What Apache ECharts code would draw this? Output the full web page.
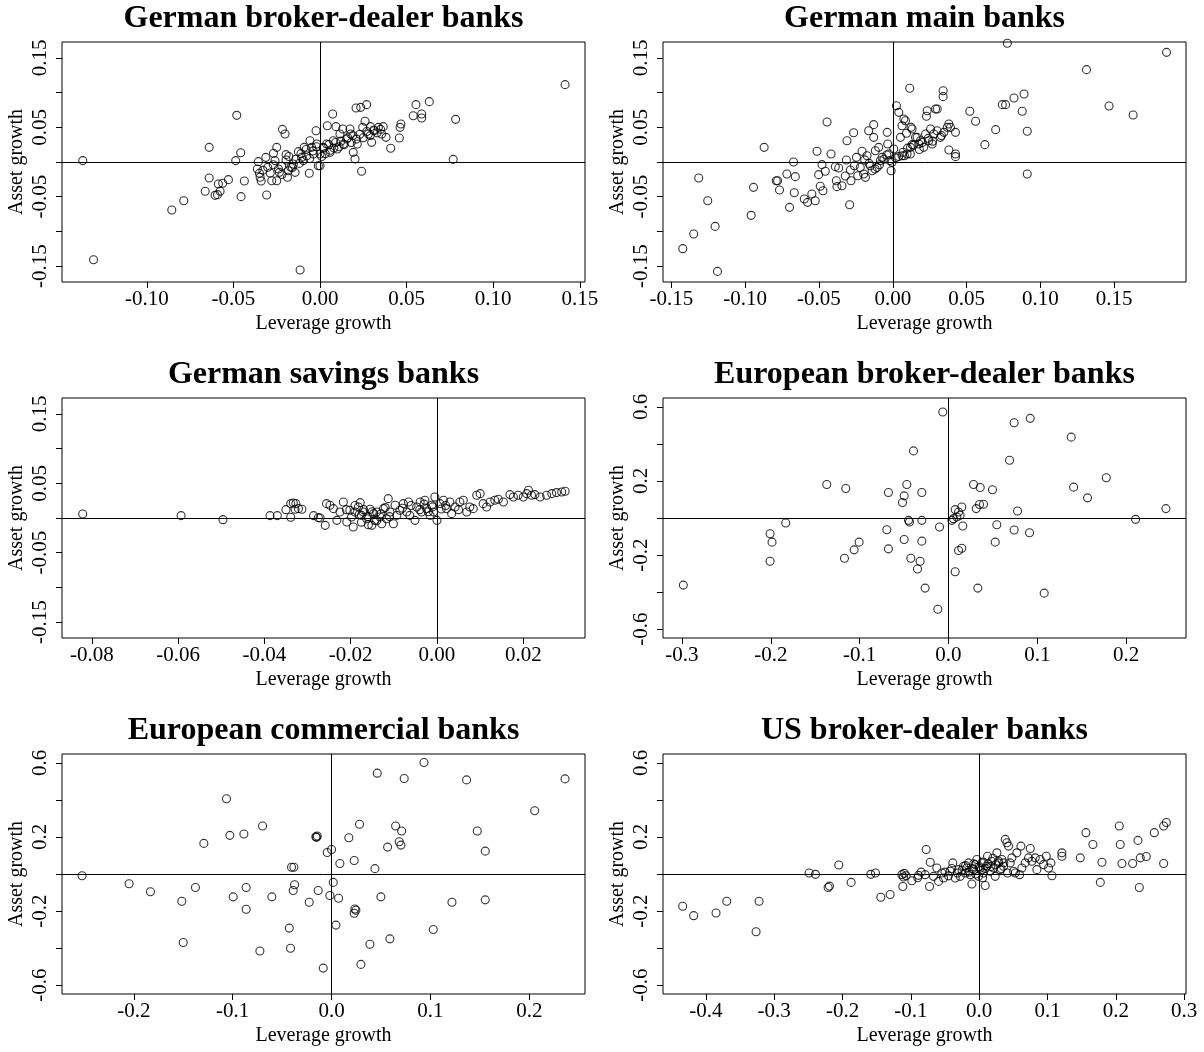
<!DOCTYPE html>
<html><head><meta charset="utf-8">
<script src="https://cdn.jsdelivr.net/npm/echarts@6/dist/echarts.min.js"></script>
<style>html,body{margin:0;padding:0;background:#fff}#c{width:1204px;height:1052px}</style>
</head><body><div id="c"></div>
<script>
// ---------- titles ----------
const panelTitles = ["German broker-dealer banks","German main banks","German savings banks",
  "European broker-dealer banks","European commercial banks","US broker-dealer banks"];
const xAxisTitle = "Leverage growth";
const yAxisTitle = "Asset growth";

// ---------- tick values / labels ----------
const xTicksGBD = [-0.10,-0.05,0.00,0.05,0.10,0.15];
const xTicksGMB = [-0.15,-0.10,-0.05,0.00,0.05,0.10,0.15];
const xTicksGSB = [-0.08,-0.06,-0.04,-0.02,0.00,0.02];
const xTicksEBD = [-0.3,-0.2,-0.1,0.0,0.1,0.2];
const xTicksECB = [-0.2,-0.1,0.0,0.1,0.2];
const xTicksUSB = [-0.4,-0.3,-0.2,-0.1,0.0,0.1,0.2,0.3];
const yTicksGerman = [-0.15,-0.10,-0.05,0.00,0.05,0.10,0.15];
const yLabelsGerman = [-0.15,-0.05,0.05,0.15];
const yTicksOther = [-0.6,-0.4,-0.2,0.0,0.2,0.4,0.6];
const yLabelsOther = [-0.6,-0.2,0.2,0.6];

// ---------- data: [leverage growth, asset growth] ----------
const germanBrokerDealer = [
[-0.137,0.002],[-0.1308,-0.1407],[-0.0856,-0.0691],[-0.0787,-0.0557],[-0.0663,-0.0422],[-0.064,0.0211],[-0.064,-0.023],
[-0.0606,-0.048],[-0.0592,-0.047],[-0.0587,-0.0317],[-0.0577,-0.042],[-0.0562,-0.0307],[-0.0529,-0.0254],[-0.0481,0.0672],
[-0.0487,0.002],[-0.0458,0.0134],[-0.0456,-0.0499],[-0.0437,-0.0274],[-0.0356,0.0005],[-0.0362,-0.010],[-0.035,-0.0163],
[-0.0346,-0.022],[-0.034,-0.0274],[-0.0313,0.0067],[-0.0308,-0.0475],[-0.0302,-0.0077],[-0.0288,-0.0158],[-0.0279,-0.0269],
[-0.0269,0.0125],[-0.026,0.002],[-0.025,0.0211],[-0.025,-0.0269],[-0.0235,-0.0149],[-0.0221,-0.0062],[-0.0217,0.047],
[-0.0202,0.0403],[-0.0196,0.0106],[-0.0196,0.0029],[-0.0188,-0.022],[-0.0183,-0.0125],[-0.0169,-0.0077],[-0.0154,-0.0029],
[-0.0144,-0.0149],[-0.0125,0.0149],[-0.0106,0.0067],[-0.0092,0.0211],[-0.0077,0.0091],[-0.0062,-0.0163],[-0.0058,0.0307],
[-0.0048,0.0211],[-0.0038,0.0115],[-0.0023,0.0451],[-0.0019,0.0259],[-0.001,-0.0053],[-0.0115,-0.1555],[-0.0096,0.002],
[0,-0.0053],[0,0.0115],[0.0019,0.0211],[0.0038,0.0259],[0.0042,0.0523],[0.0058,0.0139],[0.0073,0.0691],[0.0077,0.0307],
[0.0092,0.0509],[0.01,0.0187],[0.0115,0.0403],[0.0131,0.0475],[0.0135,0.0259],[0.0154,0.0331],[0.0173,0.0475],[0.0177,0.0403],
[0.0192,0.0139],[0.0202,0.0043],[0.0208,0.0778],[0.0215,0.0259],[0.0235,0.0787],[0.024,-0.0134],[0.0246,0.0499],[0.026,0.0586],
[0.0269,0.0826],[0.0279,0.0403],[0.0292,0.0509],[0.0298,0.0283],[0.0312,0.0451],[0.0337,0.0499],[0.0356,0.0403],[0.0365,0.0509],
[0.0381,0.0355],[0.0408,0.0197],[0.0458,0.0346],[0.0462,0.0499],[0.0467,0.0547],[0.0538,0.0667],[0.0554,0.0826],[0.0587,0.0691],
[0.0587,0.0634],[0.0631,0.0869],[0.0769,0.0038],[0.0783,0.0614],[0.1415,0.1114],
[-0.018,0.008],[-0.014,0.004],[-0.011,0.012],[-0.008,0.018],[-0.006,0.005],[-0.004,0.016],[-0.002,0.022],[0.001,0.008],
[0.002,0.02],[0.003,0.012],[0.005,0.025],[0.006,0.017],[0.008,0.02],[0.009,0.028],[0.011,0.022],[0.012,0.03],[0.014,0.025],
[0.016,0.035],[0.018,0.028],[0.019,0.038],[0.021,0.033],[0.023,0.04],[0.025,0.035],[0.027,0.044],[0.029,0.038],[0.031,0.046],
[0.033,0.042],[0.035,0.047],[-0.024,-0.01],[-0.027,-0.004],[-0.033,-0.012],[-0.022,-0.018],[-0.016,-0.008],[-0.012,-0.002]
];
const germanMainBanks = [
[-0.1422,-0.1248],[-0.1348,-0.1037],[-0.1314,-0.023],[-0.1253,-0.0557],[-0.1203,-0.0927],[-0.1187,-0.1575],[-0.0959,-0.0768],
[-0.0943,-0.0365],[-0.0871,0.0211],[-0.0789,-0.0269],[-0.078,-0.0269],[-0.0767,-0.0403],[-0.0717,-0.0173],[-0.0699,-0.0653],
[-0.0672,0],[-0.0667,-0.0442],[-0.066,-0.0211],[-0.0599,-0.0533],[-0.0577,-0.0581],[-0.0548,-0.0461],[-0.0525,-0.0557],
[-0.0513,0.0154],[-0.0502,-0.0182],[-0.0491,-0.035],[-0.0479,-0.0038],[-0.0473,-0.0413],[-0.0457,-0.0134],[-0.0445,0.0576],
[-0.0418,0.0115],[-0.0389,-0.0067],[-0.0382,-0.0269],[-0.0378,-0.0355],[-0.0366,-0.0086],[-0.0344,-0.0341],[-0.0321,-0.0202],
[-0.0314,0.0029],[-0.031,0.0307],[-0.0292,-0.0615],[-0.0287,-0.0115],[-0.0283,-0.0269],[-0.0265,0.0422],[-0.026,-0.0053],
[-0.0246,0.0067],[-0.0237,-0.0197],[-0.0208,0.0154],[-0.0197,-0.0173],[-0.0185,-0.0221],[-0.0174,0.0091],[-0.0163,0.0451],
[-0.0152,-0.0053],[-0.014,-0.0125],[-0.0129,0.0538],[-0.0129,0.0355],[-0.0118,0.0163],[-0.0106,-0.0077],[-0.0095,0.0211],
[-0.0084,0.0019],[-0.0072,0.0067],[-0.0038,0.0427],[-0.0034,0.0259],[-0.0027,0.0115],[-0.0011,-0.0125],[-0.0005,-0.0005],
[0.0007,0.0187],[0.0025,0.0811],[0.0041,0.0715],[0.0052,0.0355],[0.0063,0.0523],[0.0075,0.0619],[0.0079,0.0091],[0.0093,0.0413],
[0.0115,0.1061],[0.0119,0.0115],[0.0124,0.0499],[0.0131,0.025],[0.0154,0.0355],[0.0776,0.1709],[0.1854,0.1579],[0.1312,0.133],
[0.1465,0.0807],[0.1628,0.0677],[0.0341,0.1027],[0.0341,0.0941],[0.0522,0.073],[0.0561,0.0586],[0.0697,0.0466],[0.0624,0.025],
[0.0742,0.0826],[0.0764,0.0826],[0.0821,0.0922],[0.0889,0.0979],[0.0877,0.073],[0.0911,0.0442],[0.0911,-0.0173],[0.0233,0.0739],
[0.0228,0.0658],[0.0301,0.0763],[0.029,0.0763],[0.038,0.0547],[0.0391,0.0499],[0.0425,0.0427],[0.038,0.0173],[0.0425,0.0115],
[0.0425,0.0077],[0.0323,0.0355],[0.0278,0.0403],[0.0256,0.0475],[0.021,0.0211],[0.0188,0.0307],[0.0165,0.0355],[0.012,0.0211],
[0.0097,0.0115],[0.0063,0.0091],[0.0086,0.0595],[0.0131,0.0475],[0.0244,0.0307],[0.0267,0.0259],[0.0222,0.0403],[0.0346,0.0427],
[0.0369,0.0499],[0.0176,0.0259],
[-0.006,0.004],[-0.004,0.01],[-0.002,0.002],[0.002,0.006],[0.004,0.008],[0.007,0.014],[0.01,0.02],[0.014,0.024],[0.018,0.018],
[0.02,0.028],[0.024,0.034],[0.027,0.03],[0.03,0.045],[0.033,0.038],[-0.016,-0.002],[-0.019,0.003],[-0.022,-0.008],[-0.012,-0.01],[-0.009,-0.004]
];
const germanSavingsBanks = [
[-0.0821,0.0058],[-0.0593,0.0034],[-0.0496,-0.0024],[-0.0387,0.0034],[-0.037,0.0034],[-0.035,0.012],[-0.0339,0.001],
[-0.0339,0.0207],[-0.0333,0.0216],[-0.0329,0.0125],[-0.0327,0.0207],[-0.0321,0.0135],[-0.0313,0.0125],[-0.0286,0.0034],
[-0.0275,0.0005],[-0.0271,0],[-0.0259,-0.0106],[-0.0256,0.0207],[-0.0248,0.0183],[-0.024,0.0135],[-0.0232,-0.0034],
[-0.0225,0.0087],[-0.0217,0.0231],[-0.0209,-0.0058],[-0.0202,0.0111],[-0.0198,0.0014],[-0.0194,-0.013],[-0.019,0.0087],
[-0.0182,0.0159],[-0.0178,0.0221],[-0.0175,0.0038],[-0.0171,0.0087],[-0.0163,-0.001],[-0.0159,-0.0096],[-0.0155,0.0125],
[-0.0151,-0.0106],[-0.0147,0.0063],[-0.0144,-0.0034],[-0.014,0.0087],[-0.0132,0.0014],[-0.0128,-0.0082],[-0.0124,0.0135],
[-0.0117,-0.001],[-0.0113,0.0279],[-0.0109,0.0087],[-0.0101,-0.0082],[-0.0097,0.0183],[-0.0093,0.0038],[-0.0086,0.0111],
[-0.0078,0.0207],[-0.007,0.0087],[-0.0066,0.0231],[-0.0063,0.0038],[-0.0051,-0.0034],[-0.0047,0.0159],[-0.0039,0.0231],
[-0.0036,0.0087],[-0.0028,0.0255],[-0.0024,0.0135],[-0.0016,0.0038],[-0.0012,0.0183],[-0.0008,0.0087],[-0.0005,0.0303],
[0,-0.0034],[0.0007,0.0207],[0.0015,0.0255],[0.0022,0.0135],[0.003,0.0231],[0.0034,0.0063],[0.0042,0.0159],[0.0053,0.0231],
[0.0061,0.0255],[0.0069,0.0087],[0.0076,0.0159],[0.0084,0.0135],[0.0092,0.0327],[0.01,0.0351],[0.0107,0.0207],[0.0115,0.0159],
[0.0123,0.0231],[0.0134,0.0255],[0.0142,0.0269],[0.0154,0.0231],[0.0169,0.0337],[0.0177,0.0303],[0.0188,0.0327],[0.02,0.0303],
[0.0208,0.0351],[0.0212,0.0399],[0.0219,0.0327],[0.0227,0.0337],[0.0239,0.0303],[0.0254,0.0327],[0.0266,0.0351],[0.0277,0.0366],
[0.0289,0.0375],[0.0297,0.0385],
[-0.018,0.005],[-0.017,0.012],[-0.016,0.002],[-0.015,0.009],[-0.014,-0.004],[-0.013,0.006],[-0.012,0.015],[-0.011,0.002],
[-0.008,0.014],[-0.006,0.018],[-0.004,0.012],[-0.003,0.02],[-0.002,0.009],[-0.001,0.016],[0.001,0.013],[0.002,0.018],
[0.005,0.012],[-0.021,0.012],[-0.019,0.018],[-0.0175,-0.006]
];
const europeanBrokerDealer = [
[-0.2984,-0.3623],[-0.2008,-0.0851],[-0.1986,-0.1304],[-0.2008,-0.2337],[-0.1832,-0.0272],[-0.137,0.1812],[-0.1156,0.1594],
[-0.1171,-0.2174],[-0.1062,-0.1721],[-0.1006,-0.1304],[-0.0676,0.1377],[-0.0694,-0.0634],[-0.0676,-0.1667],[-0.0394,0.3623],
[-0.0469,0.1812],[-0.0499,0.1196],[-0.0518,0.0833],[-0.045,-0.0127],[-0.0439,-0.0217],[-0.0499,-0.1159],[-0.0424,-0.2174],
[-0.03,0.1377],[-0.03,-0.0127],[-0.03,-0.125],[-0.0319,-0.2337],[-0.0349,-0.2754],[-0.0263,-0.3786],[-0.012,-0.4928],
[-0.0101,-0.0489],[-0.0064,0.5725],[0.0038,-0.0127],[0.0056,-0.0036],[0.0075,0.0453],[0.0094,0.0054],[0.0113,0.0326],
[0.0131,0.0145],[0.015,0.0598],[0.0161,-0.0435],[0.0075,-0.2899],[0.0113,-0.1757],[0.015,-0.163],[0.0282,0.1812],
[0.0357,0.1649],[0.0312,0.0507],[0.0349,0.0725],[0.0394,0.0743],[0.033,-0.3786],[0.0495,0.1522],[0.0544,-0.0362],
[0.0526,-0.1304],[0.0687,0.3116],[0.0739,0.5145],[0.0739,-0.0652],[0.0777,0.038],[0.092,0.538],[0.0912,-0.0797],
[0.1077,-0.4058],[0.1381,0.4366],[0.1408,0.1667],[0.1565,0.1087],[0.1776,0.2174],[0.2106,-0.0072],[0.2447,0.0507]
];
const europeanCommercial = [
[-0.2524,-0.0091],[-0.2048,-0.0526],[-0.1832,-0.0962],[-0.1515,-0.147],[-0.1501,-0.3702],[-0.1377,-0.0726],[-0.1292,0.1652],
[-0.1063,0.4065],[-0.1029,0.2087],[-0.0995,-0.1234],[-0.0887,0.216],[-0.0864,-0.0726],[-0.0864,-0.1906],[-0.0725,-0.4156],
[-0.0698,0.2595],[-0.0604,-0.1234],[-0.0428,-0.2922],[-0.0415,-0.4011],[-0.0405,0.0363],[-0.0381,0.0363],[-0.0374,-0.0581],
[-0.0388,-0.0889],[-0.0226,-0.1525],[-0.0159,0.2015],[-0.0145,0.2051],[-0.0152,0.198],[-0.0135,-0.0889],[-0.0084,-0.5082],
[-0.0044,0.1162],[0,0.1325],[0.0017,-0.0454],[-0.0017,-0.1162],[0.0071,-0.1307],[0.0044,-0.2759],[0.0084,0.0563],
[0.0175,0.196],[0.0229,0.0726],[0.0236,-0.1887],[0.0246,-0.196],[0.0229,-0.2123],[0.0283,0.2686],[0.0297,-0.4882],
[0.0388,-0.3793],[0.0439,0.029],[0.0462,0.5445],[0.0499,-0.1234],[0.0567,0.1452],[0.059,-0.3503],[0.0648,0.2595],
[0.0685,0.1742],[0.0702,0.1561],[0.0709,0.2323],[0.0735,0.5154],[0.0935,0.6025],[0.1029,-0.2995],[0.1218,-0.1525],
[0.1366,0.5082],[0.1474,0.2323],[0.1555,0.1234],[0.1555,-0.1397],[0.2055,0.3412],[0.2362,0.5136]
];
const usBrokerDealer = [
[-0.4339,-0.1742],[-0.4178,-0.225],[-0.3851,-0.2105],[-0.3694,-0.147],[-0.3265,-0.3122],[-0.3221,-0.147],[-0.2489,0.0054],
[-0.2396,-0.0018],[-0.2211,-0.0726],[-0.2191,-0.0653],[-0.2055,0.049],[-0.1874,-0.0454],[-0.1586,-0.0018],[-0.1518,0.0054],
[-0.144,-0.1252],[-0.1303,-0.1107],[-0.1132,-0.0036],[-0.1108,-0.0163],[-0.1098,0.0036],[-0.1069,-0.0091],[-0.1118,-0.0672],
[-0.0986,-0.0363],[-0.0888,-0.0073],[-0.0791,-0.0036],[-0.0776,0.1325],[-0.0717,0.0635],[-0.0727,-0.0672],[-0.0669,-0.0127],
[-0.062,0.0327],[-0.0595,-0.0399],[-0.0547,0.0054],[-0.0522,-0.0218],[-0.0425,0.0145],[-0.0386,0.0599],[-0.0351,-0.0218],
[-0.0303,0.0236],[-0.0278,-0.0127],[-0.0229,0.0417],[-0.0205,0.0054],[-0.0181,0.0327],[-0.0156,0.0599],[-0.0132,-0.0036],
[-0.0107,-0.0544],[-0.0083,0.0236],[-0.0059,0.0508],[-0.0034,0.078],[-0.001,-0.0127],[0.0015,0.0327],[0.0039,0.0599],
[0.0063,0.0054],[0.0088,-0.0617],[0.0112,0.0417],[0.0122,0.0962],[0.0161,0.0145],[0.0185,0.069],[0.021,0.0327],[0.0234,-0.0127],
[0.0259,0.1143],[0.0283,0.0599],[0.0307,0.0236],[0.0332,0.078],[0.0356,0.0417],[0.0381,0.1869],[0.0405,0.1688],[0.0429,0.1506],
[0.0415,0.0054],[0.0454,0.0599],[0.0478,0.0871],[0.0503,0.0145],[0.0527,0.0054],[0.0551,0.1143],[0.0591,-0.0036],[0.061,0.1506],
[0.0625,0.0327],[0.0673,0.0599],[0.0722,0.0871],[0.0747,0.1379],[0.0771,0.069],[0.082,0.0871],[0.0844,0.0236],[0.0893,0.078],
[0.0942,0.0508],[0.0981,0.0962],[0.1015,0.0327],[0.1049,0.0599],[0.1064,-0.0091],[0.121,0.1143],[0.121,0.0962],[0.1479,0.0871],
[0.1562,0.2232],[0.1664,0.1597],[0.1772,-0.0454],[0.1796,0.0635],[0.205,0.2595],[0.2064,0.1597],[0.2089,0.0563],[0.2245,0.0563],
[0.2323,0.1815],[0.2343,-0.0726],[0.2357,0.0871],[0.2445,0.0944],[0.2562,0.2232],[0.2699,0.2595],[0.2738,0.2777],[0.2699,0.0563],
[-0.05,0.01],[-0.045,-0.01],[-0.04,0.03],[-0.032,0.005],[-0.025,0.02],[-0.02,0.045],[-0.015,0.01],[-0.01,0.03],[-0.005,0.0],
[0.0,0.04],[0.003,0.02],[0.006,0.065],[0.009,0.03],[0.013,0.055],[0.017,0.04],[0.02,0.085],[0.024,0.05],[0.028,0.07],
[0.032,0.03],[0.036,0.06],[0.005,-0.02],[-0.008,0.055],[-0.09,-0.02],[-0.085,0.01]
];

// ---------- panel layout ----------
const panels = [
  {data: germanBrokerDealer, xr:[-0.149,0.153],  yr:[-0.1728,0.1728], xt:xTicksGBD, xd:2, yt:yTicksGerman, yl:yLabelsGerman, yd:2, left:62,  top:42},
  {data: germanMainBanks,    xr:[-0.1556,0.1986],yr:[-0.1728,0.1728], xt:xTicksGMB, xd:2, yt:yTicksGerman, yl:yLabelsGerman, yd:2, left:663, top:42},
  {data: germanSavingsBanks, xr:[-0.0869,0.0343],yr:[-0.1728,0.1728], xt:xTicksGSB, xd:2, yt:yTicksGerman, yl:yLabelsGerman, yd:2, left:62,  top:398},
  {data: europeanBrokerDealer,xr:[-0.3213,0.2673],yr:[-0.648,0.648],  xt:xTicksEBD, xd:1, yt:yTicksOther, yl:yLabelsOther, yd:1, left:663, top:398},
  {data: europeanCommercial, xr:[-0.2727,0.2564],yr:[-0.648,0.648],   xt:xTicksECB, xd:1, yt:yTicksOther, yl:yLabelsOther, yd:1, left:62,  top:754},
  {data: usBrokerDealer,     xr:[-0.4627,0.3026],yr:[-0.648,0.648],   xt:xTicksUSB, xd:1, yt:yTicksOther, yl:yLabelsOther, yd:1, left:663, top:754}
];
const W = 523, H = 240;
const serif = "'Liberation Serif','Times New Roman',serif";

const option = {backgroundColor:'#fff', animation:false, title:[], grid:[], xAxis:[], yAxis:[], series:[]};
panels.forEach((p,i)=>{
  option.title.push({text: panelTitles[i], left: p.left + W/2, top: p.top - 39, textAlign:'center', padding:0,
    textStyle:{fontFamily:serif, fontWeight:'bold', fontSize:32, color:'#000'}});
  option.grid.push({left:p.left, top:p.top, width:W, height:H, show:true, borderColor:'#000', borderWidth:1,
    backgroundColor:'transparent'});
  option.xAxis.push({type:'value', gridIndex:i, min:p.xr[0], max:p.xr[1],
    axisLine:{show:false, onZero:false}, splitLine:{show:false},
    axisTick:{show:true, inside:false, length:6, customValues:p.xt, lineStyle:{color:'#000', width:1}},
    axisLabel:{customValues:p.xt, formatter:v=>Number(v).toFixed(p.xd), margin:7, fontFamily:serif, fontSize:21, color:'#000'},
    name:xAxisTitle, nameLocation:'middle', nameGap:32, nameTextStyle:{fontFamily:serif, fontSize:20, color:'#000'}});
  option.yAxis.push({type:'value', gridIndex:i, min:p.yr[0], max:p.yr[1],
    axisLine:{show:false, onZero:false}, splitLine:{show:false},
    axisTick:{show:true, inside:false, length:6, customValues:p.yt, lineStyle:{color:'#000', width:1}},
    axisLabel:{customValues:p.yl, formatter:v=>Number(v).toFixed(p.yd), rotate:90, margin:11, fontFamily:serif, fontSize:21, color:'#000'},
    name:yAxisTitle, nameLocation:'middle', nameGap:35, nameTextStyle:{fontFamily:serif, fontSize:20, color:'#000'}});
  option.series.push({type:'scatter', xAxisIndex:i, yAxisIndex:i, data:p.data, symbol:'circle', symbolSize:8,
    clip:false, silent:true,
    itemStyle:{color:'transparent', borderColor:'#000', borderWidth:1.1},
    markLine:{silent:true, symbol:['none','none'], label:{show:false}, animation:false,
      lineStyle:{color:'#000', type:'solid', width:1}, emphasis:{disabled:true},
      data:[{xAxis:0},{yAxis:0}]}});
});
const chart = echarts.init(document.getElementById('c'), null, {renderer:'canvas'});
chart.setOption(option);
</script>
</body></html>
